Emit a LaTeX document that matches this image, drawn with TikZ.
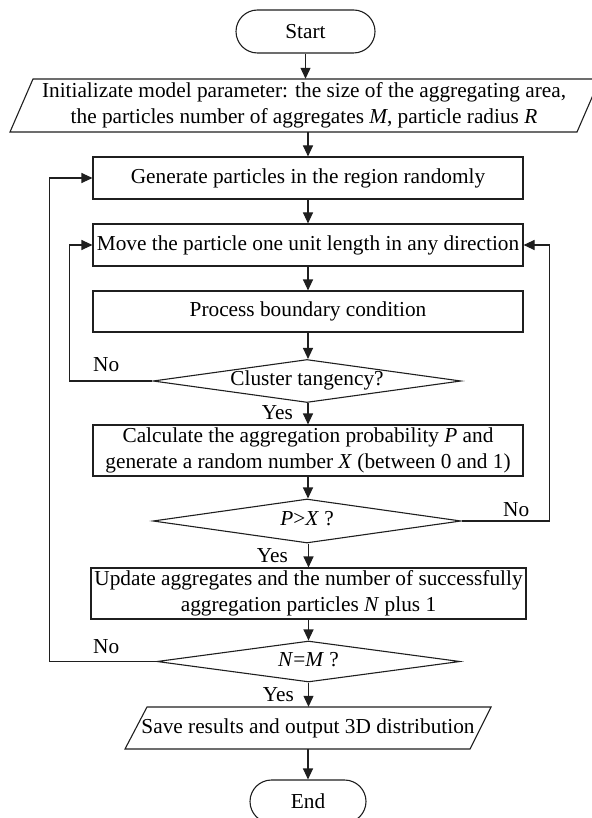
\documentclass[tikz,border=0pt]{standalone}
\usepackage{fontspec}
\setmainfont{Liberation Serif}
\usetikzlibrary{arrows.meta,shapes.geometric}
\begin{document}
\begin{tikzpicture}[x=1pt,y=-1pt,
  every node/.style={font=\fontsize{21.3pt}{25.5pt}\selectfont, inner sep=0pt},
  lw/.style={line width=1.1pt, draw=black!88},
  terminal/.style={lw, rectangle, rounded corners=21.5pt, minimum height=43pt},
  procbox/.style={lw, rectangle, minimum width=430pt, align=center},
  decision/.style={lw, diamond, shape aspect=7.2, text height=13pt, text depth=4pt,
                   minimum width=308pt, minimum height=43pt},
  iotext/.style={align=center},
  arr/.style={lw, -{Triangle[length=11pt,width=10pt]}},
  lbl/.style={inner sep=0pt}
]
\useasboundingbox (0,0) rectangle (591,818);

% nodes
\node[terminal, minimum width=139pt] (start) at (305.5,31.5) {Start};
\node[iotext, minimum width=544pt, minimum height=53pt] (init) at (304,105.5)
  {Initializate model parameter: the size of the aggregating area,\\
   the particles number of aggregates \textit{M}, particle radius \textit{R}};
\draw[lw] (33,79) -- (600,79) -- (577,132) -- (10,132) -- cycle;
\node[procbox, minimum height=42pt] (gen) at (308,178) {Generate particles in the region randomly};
\node[procbox, minimum height=42pt] (move) at (308,245) {Move the particle one unit length in any direction};
\node[procbox, minimum height=41pt] (proc) at (308,311.5) {Process boundary condition};
\node[decision] (clus) at (307,381) {Cluster tangency?};
\node[procbox, minimum height=51pt] (calc) at (308,450.5)
  {Calculate the aggregation probability \textit{P} and\\
   generate a random number \textit{X} (between 0 and 1)};
\node[decision, minimum height=44pt] (pgx) at (307,521) {\textit{P}>\textit{X} ?};
\node[procbox, minimum width=435pt, minimum height=51pt] (upd) at (308.5,593.5)
  {Update aggregates and the number of successfully\\
   aggregation particles \textit{N} plus 1};
\node[decision, minimum width=303pt, minimum height=41pt] (nem) at (308.5,661.5) {\textit{N}=\textit{M} ?};
\node[iotext, minimum width=345pt, minimum height=42pt] (save) at (308,728)
  {Save results and output 3D distribution};
\draw[lw] (147,707) -- (491,707) -- (470,749) -- (125,749) -- cycle;
\node[terminal, minimum width=116pt] (end) at (308,801.5) {End};

% main flow
\draw[arr] (start.south) -- (start.south |- init.north);
\draw[arr] (gen.north |- init.south) -- (gen.north);
\draw[arr] (gen.south) -- (move.north);
\draw[arr] (move.south) -- (move.south |- proc.north);
\draw[arr] (proc.south) -- (proc.south |- clus.north);
\draw[arr] (clus.south -| calc.north) -- (calc.north);
\draw[arr] (calc.south) -- (calc.south |- pgx.north);
\draw[arr] (pgx.south -| upd.north) -- (upd.north);
\draw[arr] (upd.south) -- (upd.south |- nem.north);
\draw[arr] (nem.south) -- (nem.south |- save.north);
\draw[arr] (save.south) -- (save.south |- end.north);

% loops
\draw[arr] (clus.west) -- ++(-83,0) |- (move.west);
\draw[arr] (pgx.east) -- ++(88,0) |- (move.east);
\draw[arr] (nem.west) -- ++(-107,0) |- (gen.west);

% labels
\node[lbl, anchor=base west] (no1) at (93,371) {No};
\node[lbl, anchor=base west] (no2) at (503,516) {No};
\node[lbl, anchor=base west] (no3) at (93,653) {No};
\node[lbl, anchor=base east] (yes1) at (293,419) {Yes};
\node[lbl, anchor=base east] (yes2) at (288,562) {Yes};
\node[lbl, anchor=base east] (yes3) at (294,701) {Yes};
\end{tikzpicture}
\end{document}
